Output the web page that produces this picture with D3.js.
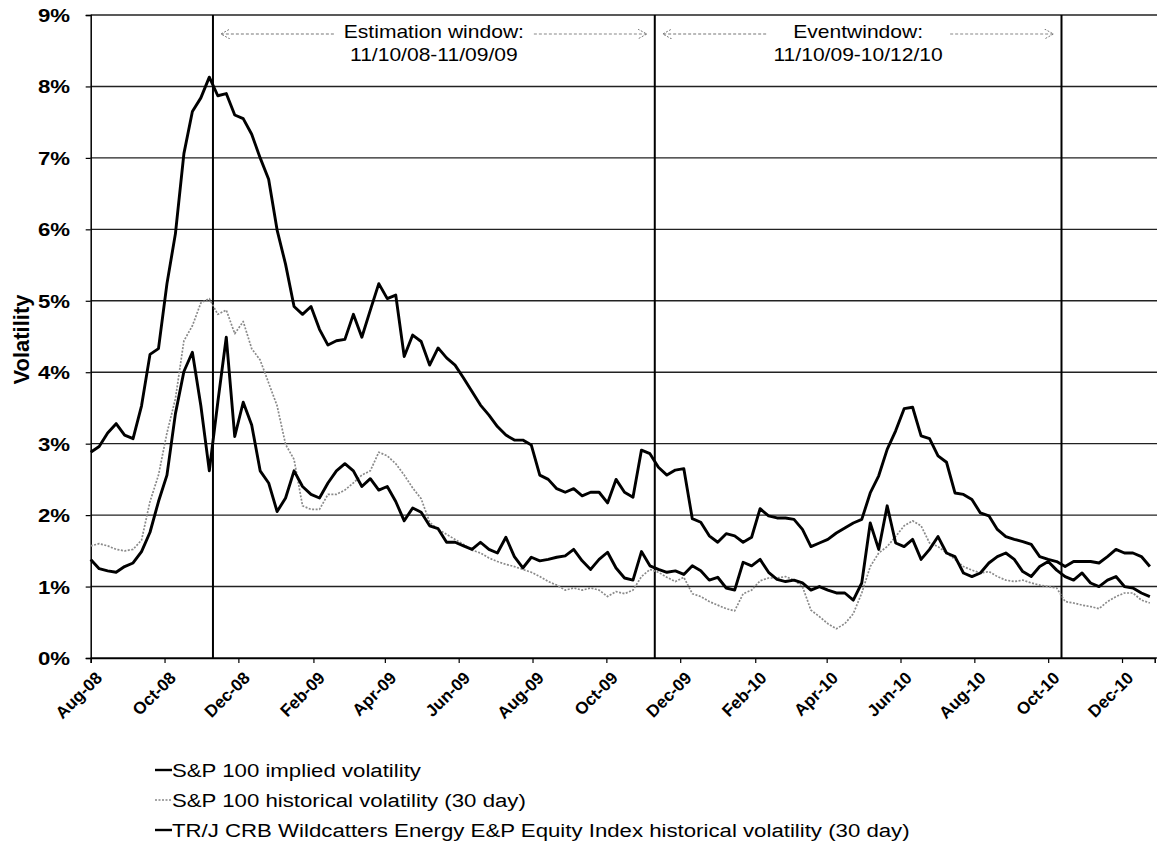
<!DOCTYPE html>
<html>
<head>
<meta charset="utf-8">
<script src="https://cdn.jsdelivr.net/npm/d3@7/dist/d3.min.js"></script>
<style>
  body { margin: 0; background: #fff; }
  text { font-family: "Liberation Sans", Arial, sans-serif; fill: #000; }
</style>
</head>
<body>
<div id="chart"></div>
<script>
// weekly readings, Aug 2008 - Dec 2010
var dates = [
  "2008-08-01","2008-08-08","2008-08-15","2008-08-22","2008-08-29","2008-09-05","2008-09-12","2008-09-19","2008-09-26",
  "2008-10-03","2008-10-10","2008-10-17","2008-10-24","2008-10-31","2008-11-07","2008-11-14","2008-11-21","2008-11-28",
  "2008-12-05","2008-12-12","2008-12-19","2008-12-26",
  "2009-01-02","2009-01-09","2009-01-16","2009-01-23","2009-01-30","2009-02-06","2009-02-13","2009-02-20","2009-02-27",
  "2009-03-06","2009-03-13","2009-03-20","2009-03-27","2009-04-03","2009-04-10","2009-04-17","2009-04-24",
  "2009-05-01","2009-05-08","2009-05-15","2009-05-22","2009-05-29","2009-06-05","2009-06-12","2009-06-19","2009-06-26",
  "2009-07-03","2009-07-10","2009-07-17","2009-07-24","2009-07-31","2009-08-07","2009-08-14","2009-08-21","2009-08-28",
  "2009-09-04","2009-09-11","2009-09-18","2009-09-25","2009-10-02","2009-10-09","2009-10-16","2009-10-23","2009-10-30",
  "2009-11-06","2009-11-13","2009-11-20","2009-11-27","2009-12-04","2009-12-11","2009-12-18","2009-12-25",
  "2010-01-01","2010-01-08","2010-01-15","2010-01-22","2010-01-29","2010-02-05","2010-02-12","2010-02-19","2010-02-26",
  "2010-03-05","2010-03-12","2010-03-19","2010-03-26","2010-04-02","2010-04-09","2010-04-16","2010-04-23","2010-04-30",
  "2010-05-07","2010-05-14","2010-05-21","2010-05-28","2010-06-04","2010-06-11","2010-06-18","2010-06-25",
  "2010-07-02","2010-07-09","2010-07-16","2010-07-23","2010-07-30","2010-08-06","2010-08-13","2010-08-20","2010-08-27",
  "2010-09-03","2010-09-10","2010-09-17","2010-09-24","2010-10-01","2010-10-08","2010-10-15","2010-10-22","2010-10-29",
  "2010-11-05","2010-11-12","2010-11-19","2010-11-26","2010-12-03","2010-12-10","2010-12-17","2010-12-24"
];

var impliedVol = [
  2.88,2.96,3.15,3.28,3.12,3.07,3.53,4.25,4.33,5.24,5.94,7.06,7.65,7.84,8.13,7.87,7.90,7.60,7.55,7.33,7.00,6.70,
  5.99,5.51,4.92,4.81,4.92,4.60,4.38,4.44,4.46,4.81,4.49,4.87,5.24,5.03,5.08,4.22,4.52,4.43,4.10,4.34,4.20,4.10,
  3.92,3.73,3.54,3.40,3.24,3.12,3.05,3.05,2.98,2.56,2.50,2.37,2.32,2.37,2.27,2.32,2.32,2.17,2.50,2.32,2.25,2.91,
  2.86,2.67,2.56,2.63,2.65,1.95,1.90,1.71,1.62,1.74,1.71,1.62,1.69,2.09,1.99,1.96,1.96,1.94,1.80,1.56,1.61,1.66,
  1.75,1.82,1.89,1.94,2.31,2.55,2.92,3.18,3.49,3.51,3.11,3.07,2.83,2.74,2.31,2.29,2.22,2.03,1.99,1.80,1.70,1.66,
  1.63,1.59,1.42,1.38,1.35,1.28,1.35,1.35,1.35,1.33,1.42,1.52,1.47,1.47,1.42,1.28
];

var histVol = [
  1.57,1.60,1.57,1.52,1.50,1.52,1.65,2.19,2.56,3.15,3.63,4.44,4.65,4.97,5.03,4.81,4.87,4.54,4.71,4.33,4.17,3.85,
  3.53,2.99,2.78,2.13,2.08,2.08,2.29,2.29,2.35,2.45,2.56,2.62,2.88,2.83,2.72,2.56,2.38,2.23,1.90,1.80,1.73,1.66,
  1.59,1.51,1.47,1.40,1.35,1.31,1.28,1.24,1.20,1.14,1.07,1.02,0.95,0.98,0.95,0.98,0.95,0.86,0.93,0.90,0.95,1.14,
  1.24,1.20,1.13,1.07,1.13,0.90,0.86,0.79,0.74,0.69,0.66,0.90,0.95,1.08,1.12,1.12,1.14,1.09,1.00,0.67,0.58,0.48,
  0.41,0.48,0.62,0.91,1.28,1.47,1.56,1.70,1.85,1.92,1.85,1.61,1.56,1.47,1.38,1.28,1.23,1.19,1.21,1.14,1.09,1.07,
  1.09,1.05,1.02,1.00,0.98,0.79,0.77,0.74,0.72,0.69,0.79,0.86,0.91,0.91,0.81,0.77
];

var wildVol = [
  1.38,1.25,1.22,1.20,1.28,1.33,1.49,1.76,2.19,2.56,3.42,4.01,4.28,3.53,2.62,3.58,4.49,3.10,3.58,3.26,2.62,2.45,
  2.05,2.24,2.62,2.40,2.29,2.24,2.45,2.62,2.72,2.62,2.40,2.51,2.35,2.40,2.19,1.92,2.10,2.04,1.85,1.81,1.62,1.62,
  1.57,1.52,1.62,1.52,1.47,1.69,1.42,1.26,1.41,1.36,1.38,1.41,1.43,1.52,1.36,1.24,1.38,1.48,1.26,1.12,1.09,1.49,
  1.29,1.24,1.20,1.22,1.17,1.29,1.22,1.09,1.13,0.98,0.95,1.34,1.29,1.38,1.20,1.10,1.07,1.09,1.05,0.95,1.00,0.95,
  0.91,0.91,0.81,1.05,1.89,1.52,2.13,1.61,1.56,1.66,1.38,1.52,1.70,1.47,1.42,1.19,1.14,1.19,1.33,1.42,1.47,1.38,
  1.21,1.14,1.28,1.35,1.23,1.14,1.09,1.19,1.05,1.00,1.09,1.14,1.00,0.98,0.91,0.86
];

var seriesNames = [
  "S&P 100 implied volatility",
  "S&P 100 historical volatility (30 day)",
  "TR/J CRB Wildcatters Energy E&P Equity Index historical volatility (30 day)"
];

var tickMonths = [
  "2008-08-01","2008-10-01","2008-12-01","2009-02-01","2009-04-01","2009-06-01","2009-08-01","2009-10-01",
  "2009-12-01","2010-02-01","2010-04-01","2010-06-01","2010-08-01","2010-10-01","2010-12-01"
];
var yTicks = [0, 1, 2, 3, 4, 5, 6, 7, 8, 9];

// window boundaries: estimation 11/10/08-11/09/09, event 11/10/09-10/12/10
var windowLines = ["2008-11-10", "2009-11-10", "2010-10-12"];
var windowLabels = [
  ["Estimation window:", "11/10/08-11/09/09"],
  ["Eventwindow:", "11/10/09-10/12/10"]
];

var parse = d3.timeParse("%Y-%m-%d");
var width = 1157, height = 861;
var plotLeft = 90.7, plotTop = 15, plotBottom = 658;
var stretch = 1.17; // scanned original is a little wider than its glyphs

var x = d3.scaleTime()
  .domain([parse("2008-08-01"), parse("2010-12-28")])
  .range([plotLeft, 1154.7]);
var y = d3.scaleLinear().domain([0, 9]).range([plotBottom, plotTop]);

var svg = d3.select("#chart").append("svg")
  .attr("width", width)
  .attr("height", height);

var defs = svg.append("defs");
defs.append("marker")
  .attr("id", "arrow")
  .attr("viewBox", "0 0 10 10")
  .attr("refX", 9).attr("refY", 5)
  .attr("markerWidth", 10).attr("markerHeight", 10)
  .attr("markerUnits", "userSpaceOnUse")
  .attr("orient", "auto-start-reverse")
  .append("path")
  .attr("d", "M0,0 L9,5 L0,10")
  .attr("fill", "none")
  .attr("stroke", "#777")
  .attr("stroke-width", 1)
  .attr("stroke-dasharray", "2,1.5");

function wideText(g, tx, ty, str, size, weight, anchor) {
  return g.append("text")
    .attr("transform", "translate(" + tx + "," + ty + ") scale(" + stretch + ",1)")
    .attr("text-anchor", anchor || "start")
    .attr("font-size", size)
    .attr("font-weight", weight || "normal")
    .text(str);
}

// horizontal grid
svg.append("g").selectAll("line")
  .data(yTicks)
  .enter().append("line")
  .attr("x1", plotLeft).attr("x2", width)
  .attr("y1", function(d) { return y(d); })
  .attr("y2", function(d) { return y(d); })
  .attr("stroke", "#222")
  .attr("stroke-width", 1.4);

// y axis
var yAxis = svg.append("g")
  .attr("transform", "translate(" + plotLeft + ",0)")
  .call(d3.axisLeft(y).tickValues(yTicks).tickSize(5).tickFormat(""));
yAxis.select(".domain").attr("stroke", "#000").attr("stroke-width", 1.5);
yAxis.selectAll(".tick line").attr("stroke", "#000").attr("stroke-width", 1.2);
var yLabels = svg.append("g");
yTicks.forEach(function(t) {
  wideText(yLabels, 70, y(t) + 7, t + "%", "19px", "bold", "end");
});

svg.append("text")
  .attr("transform", "translate(29," + ((plotTop + plotBottom) / 2 + 3) + ") rotate(-90)")
  .attr("text-anchor", "middle")
  .attr("font-size", "22px")
  .attr("font-weight", "bold")
  .text("Volatility");

// x axis
var xAxis = svg.append("g")
  .attr("transform", "translate(0," + plotBottom + ")")
  .call(d3.axisBottom(x).tickValues(tickMonths.map(parse)).tickSize(5).tickFormat(d3.timeFormat("%b-%y")));
xAxis.select(".domain").attr("stroke", "#000").attr("stroke-width", 1.5);
xAxis.selectAll(".tick line").attr("stroke", "#000").attr("stroke-width", 1.2);
xAxis.selectAll("text")
  .attr("font-size", "17px")
  .attr("font-weight", "bold")
  .attr("text-anchor", "end")
  .attr("dy", null)
  .attr("y", 0)
  .attr("transform", "translate(12,21) rotate(-45)");

// window boundary lines
svg.append("g").selectAll("line")
  .data(windowLines)
  .enter().append("line")
  .attr("x1", function(d) { return x(parse(d)); })
  .attr("x2", function(d) { return x(parse(d)); })
  .attr("y1", y(9)).attr("y2", y(0))
  .attr("stroke", "#000")
  .attr("stroke-width", 2);

// window labels and arrows
var notes = svg.append("g");
windowLabels.forEach(function(lab, i) {
  var x0 = x(parse(windowLines[i])), x1 = x(parse(windowLines[i + 1]));
  var cx = (x0 + x1) / 2;
  wideText(notes, cx, 38, lab[0], "18px", "normal", "middle");
  wideText(notes, cx, 61, lab[1], "18px", "normal", "middle");
  var half = i == 0 ? 100 : 92;
  svg.append("line")
    .attr("x1", cx - half).attr("x2", x0 + 8)
    .attr("y1", 34).attr("y2", 34)
    .attr("stroke", "#777").attr("stroke-width", 1.2)
    .attr("stroke-dasharray", "3,2")
    .attr("marker-end", "url(#arrow)");
  svg.append("line")
    .attr("x1", cx + half).attr("x2", x1 - 8)
    .attr("y1", 34).attr("y2", 34)
    .attr("stroke", "#888").attr("stroke-width", 1.2)
    .attr("stroke-dasharray", "3,2")
    .attr("marker-end", "url(#arrow)");
});

// series
var line = d3.line()
  .x(function(d) { return x(d.date); })
  .y(function(d) { return y(d.v); });

function toPoints(vals) {
  return vals.map(function(v, i) { return { date: parse(dates[i]), v: v }; });
}

var series = [
  { name: seriesNames[1], vals: histVol, color: "#8a8a8a", w: 1.7, dash: "2,1.5" },
  { name: seriesNames[2], vals: wildVol, color: "#000", w: 2.9, dash: null },
  { name: seriesNames[0], vals: impliedVol, color: "#000", w: 2.9, dash: null }
];

series.forEach(function(s) {
  svg.append("path")
    .datum(toPoints(s.vals))
    .attr("fill", "none")
    .attr("stroke", s.color)
    .attr("stroke-width", s.w)
    .attr("stroke-dasharray", s.dash)
    .attr("stroke-linejoin", "round")
    .attr("d", line);
});

// legend
var legendStyle = [
  { color: "#000", w: 2.4, dash: null },
  { color: "#888", w: 1.6, dash: "2,1.5" },
  { color: "#000", w: 2.4, dash: null }
];
var legend = svg.append("g");
seriesNames.forEach(function(name, i) {
  var ly = 770 + i * 30;
  legend.append("line")
    .attr("x1", 155).attr("x2", 172)
    .attr("y1", ly).attr("y2", ly)
    .attr("stroke", legendStyle[i].color)
    .attr("stroke-width", legendStyle[i].w)
    .attr("stroke-dasharray", legendStyle[i].dash);
  wideText(legend, 172, ly + 7, name, "19px");
});
</script>
</body>
</html>
